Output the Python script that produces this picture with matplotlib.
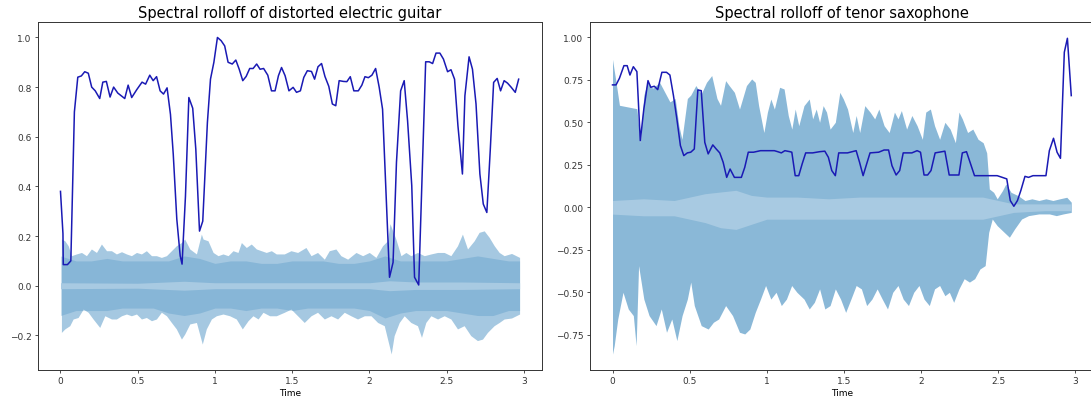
import numpy as np
import matplotlib
matplotlib.use("Agg")
import matplotlib.pyplot as plt

# spectral rolloff curves (normalised)
guitar_rolloff_t = [0, 0.016, 0.018, 0.045, 0.067, 0.09, 0.112, 0.135, 0.157, 0.18, 0.202, 0.225, 0.254,
                    0.274, 0.297, 0.321, 0.344, 0.371, 0.416, 0.438, 0.461, 0.494, 0.528, 0.551, 0.578,
                    0.6, 0.622, 0.645, 0.667, 0.69, 0.712, 0.73, 0.753, 0.775, 0.787, 0.809, 0.831,
                    0.856, 0.876, 0.9, 0.921, 0.951, 0.971, 0.993, 1.016, 1.04, 1.063, 1.085, 1.112,
                    1.135, 1.157, 1.18, 1.202, 1.225, 1.247, 1.27, 1.292, 1.315, 1.342, 1.366, 1.389,
                    1.411, 1.431, 1.454, 1.479, 1.506, 1.528, 1.553, 1.575, 1.598, 1.625, 1.645, 1.667,
                    1.69, 1.712, 1.737, 1.76, 1.782, 1.804, 1.831, 1.854, 1.876, 1.899, 1.928, 1.951,
                    1.971, 1.993, 2.016, 2.04, 2.063, 2.085, 2.108, 2.13, 2.153, 2.175, 2.202, 2.225,
                    2.247, 2.274, 2.292, 2.319, 2.342, 2.364, 2.387, 2.409, 2.431, 2.456, 2.479, 2.506,
                    2.528, 2.551, 2.573, 2.602, 2.618, 2.645, 2.667, 2.69, 2.715, 2.737, 2.76, 2.782,
                    2.804, 2.827, 2.849, 2.872, 2.894, 2.917, 2.944, 2.966]
guitar_rolloff = [0.38, 0.21, 0.085, 0.085, 0.1, 0.70, 0.84, 0.845, 0.862, 0.856, 0.80, 0.785, 0.754,
                  0.82, 0.823, 0.76, 0.80, 0.776, 0.754, 0.808, 0.758, 0.79, 0.82, 0.812, 0.848,
                  0.826, 0.842, 0.785, 0.772, 0.797, 0.69, 0.53, 0.268, 0.12, 0.087, 0.36, 0.758,
                  0.715, 0.55, 0.22, 0.26, 0.657, 0.832, 0.9, 1.0, 0.987, 0.966, 0.9, 0.893,
                  0.909, 0.872, 0.826, 0.843, 0.875, 0.875, 0.893, 0.872, 0.875, 0.848, 0.785, 0.785,
                  0.846, 0.879, 0.846, 0.785, 0.799, 0.779, 0.785, 0.839, 0.866, 0.863, 0.832, 0.882,
                  0.895, 0.843, 0.803, 0.732, 0.725, 0.826, 0.823, 0.822, 0.842, 0.785, 0.785, 0.808,
                  0.842, 0.838, 0.848, 0.875, 0.80, 0.711, 0.362, 0.034, 0.094, 0.497, 0.785, 0.826,
                  0.664, 0.403, 0.034, 0.003, 0.456, 0.902, 0.902, 0.895, 0.937, 0.937, 0.913, 0.862,
                  0.87, 0.832, 0.644, 0.45, 0.765, 0.922, 0.872, 0.732, 0.45, 0.329, 0.295, 0.544,
                  0.819, 0.835, 0.785, 0.826, 0.816, 0.80, 0.779, 0.832]

sax_rolloff_t = [0, 0.023, 0.045, 0.074, 0.095, 0.113, 0.135, 0.158, 0.18, 0.203, 0.23, 0.248, 0.271,
                 0.293, 0.32, 0.35, 0.372, 0.395, 0.417, 0.44, 0.462, 0.485, 0.507, 0.53, 0.553,
                 0.575, 0.598, 0.62, 0.65, 0.672, 0.695, 0.717, 0.74, 0.762, 0.79, 0.835, 0.857,
                 0.88, 0.914, 0.959, 1.049, 1.071, 1.094, 1.117, 1.15, 1.162, 1.184, 1.207, 1.229,
                 1.252, 1.297, 1.342, 1.376, 1.399, 1.421, 1.444, 1.466, 1.523, 1.579, 1.601, 1.624,
                 1.647, 1.669, 1.725, 1.76, 1.789, 1.811, 1.838, 1.861, 1.884, 1.94, 1.974, 1.996,
                 2.019, 2.042, 2.064, 2.091, 2.154, 2.182, 2.245, 2.267, 2.294, 2.317, 2.346, 2.403,
                 2.493, 2.526, 2.555, 2.578, 2.601, 2.624, 2.646, 2.673, 2.696, 2.725, 2.764, 2.809,
                 2.831, 2.858, 2.881, 2.903, 2.928, 2.948, 2.973]
sax_rolloff = [0.72, 0.72, 0.759, 0.833, 0.833, 0.778, 0.827, 0.798, 0.392, 0.578, 0.745, 0.706, 0.712,
               0.692, 0.794, 0.794, 0.778, 0.657, 0.52, 0.363, 0.304, 0.32, 0.324, 0.343, 0.69,
               0.686, 0.382, 0.314, 0.367, 0.343, 0.32, 0.265, 0.176, 0.225, 0.176, 0.176, 0.235,
               0.324, 0.324, 0.333, 0.333, 0.327, 0.32, 0.333, 0.327, 0.324, 0.186, 0.186, 0.255,
               0.32, 0.32, 0.327, 0.33, 0.294, 0.216, 0.186, 0.32, 0.32, 0.333, 0.265, 0.186,
               0.255, 0.32, 0.324, 0.337, 0.337, 0.245, 0.19, 0.216, 0.32, 0.32, 0.333, 0.324,
               0.19, 0.19, 0.216, 0.32, 0.33, 0.19, 0.19, 0.32, 0.327, 0.265, 0.186, 0.186,
               0.186, 0.176, 0.167, 0.039, 0.006, 0.039, 0.098, 0.182, 0.176, 0.186, 0.186, 0.186,
               0.333, 0.406, 0.324, 0.288, 0.912, 0.994, 0.657]

# guitar waveform envelope (outer spikes)
guitar_upper_t = [0.006, 0.028, 0.05, 0.071, 0.103, 0.136, 0.168, 0.2, 0.233, 0.265, 0.298, 0.33, 0.362,
                  0.395, 0.427, 0.459, 0.492, 0.524, 0.556, 0.589, 0.621, 0.653, 0.686, 0.718, 0.75,
                  0.783, 0.804, 0.837, 0.88, 0.912, 0.923, 0.955, 0.988, 1.02, 1.052, 1.085, 1.117,
                  1.149, 1.171, 1.203, 1.235, 1.268, 1.3, 1.332, 1.365, 1.397, 1.449, 1.492, 1.535,
                  1.589, 1.622, 1.664, 1.708, 1.74, 1.783, 1.815, 1.859, 1.913, 1.956, 1.999, 2.042,
                  2.085, 2.117, 2.133, 2.171, 2.204, 2.236, 2.268, 2.311, 2.355, 2.398, 2.441, 2.484,
                  2.527, 2.57, 2.602, 2.635, 2.678, 2.71, 2.743, 2.775, 2.808, 2.84, 2.872, 2.92, 2.972]
guitar_upper = [0.188, 0.181, 0.161, 0.121, 0.128, 0.134, 0.121, 0.148, 0.134, 0.168, 0.141, 0.141, 0.128,
                0.137, 0.128, 0.121, 0.134, 0.128, 0.141, 0.121, 0.121, 0.114, 0.121, 0.141, 0.161,
                0.174, 0.188, 0.148, 0.128, 0.208, 0.188, 0.181, 0.134, 0.121, 0.128, 0.121, 0.141,
                0.134, 0.174, 0.154, 0.168, 0.148, 0.141, 0.134, 0.141, 0.128, 0.128, 0.141, 0.134,
                0.154, 0.121, 0.134, 0.107, 0.141, 0.148, 0.121, 0.107, 0.134, 0.121, 0.134, 0.114,
                0.161, 0.181, 0.25, 0.188, 0.121, 0.134, 0.121, 0.134, 0.121, 0.128, 0.134, 0.134,
                0.121, 0.161, 0.208, 0.148, 0.181, 0.215, 0.221, 0.195, 0.161, 0.134, 0.121, 0.13, 0.114]
guitar_lower_t = [0.006, 0.028, 0.06, 0.082, 0.114, 0.147, 0.179, 0.211, 0.254, 0.287, 0.33, 0.362, 0.395,
                  0.427, 0.459, 0.492, 0.524, 0.556, 0.589, 0.621, 0.653, 0.686, 0.718, 0.75, 0.783,
                  0.804, 0.837, 0.88, 0.918, 0.944, 0.977, 1.009, 1.052, 1.095, 1.138, 1.177, 1.214,
                  1.246, 1.279, 1.311, 1.354, 1.397, 1.449, 1.492, 1.535, 1.578, 1.622, 1.664, 1.708,
                  1.751, 1.794, 1.837, 1.88, 1.923, 1.967, 2.01, 2.053, 2.096, 2.128, 2.141, 2.16,
                  2.193, 2.225, 2.268, 2.311, 2.337, 2.365, 2.398, 2.441, 2.484, 2.527, 2.57, 2.613,
                  2.656, 2.699, 2.732, 2.764, 2.807, 2.84, 2.872, 2.92, 2.972]
guitar_lower = [-0.188, -0.174, -0.161, -0.134, -0.128, -0.094, -0.107, -0.134, -0.168, -0.121, -0.134,
                -0.134, -0.121, -0.114, -0.121, -0.114, -0.134, -0.128, -0.141, -0.134, -0.107, -0.121,
                -0.148, -0.174, -0.215, -0.195, -0.154, -0.148, -0.235, -0.174, -0.134, -0.121, -0.114,
                -0.121, -0.134, -0.174, -0.141, -0.121, -0.134, -0.107, -0.121, -0.121, -0.107, -0.094,
                -0.121, -0.148, -0.121, -0.107, -0.134, -0.121, -0.134, -0.107, -0.121, -0.134, -0.121,
                -0.121, -0.148, -0.161, -0.242, -0.275, -0.201, -0.148, -0.121, -0.148, -0.161, -0.208,
                -0.148, -0.121, -0.134, -0.121, -0.134, -0.174, -0.161, -0.201, -0.221, -0.215, -0.188,
                -0.161, -0.148, -0.134, -0.13, -0.114]

# guitar waveform dense body
guitar_bulk_t = [0, 0.1, 0.2, 0.3, 0.4, 0.5, 0.6, 0.7, 0.8, 0.9, 1.0, 1.1, 1.2, 1.3, 1.4, 1.5, 1.6, 1.7,
                 1.8, 1.9, 2.0, 2.1, 2.2, 2.3, 2.4, 2.5, 2.6, 2.7, 2.8, 2.9, 2.972]
guitar_bulk_upper = [0.12, 0.10, 0.10, 0.11, 0.10, 0.10, 0.10, 0.10, 0.12, 0.11, 0.09, 0.10, 0.10, 0.09,
                     0.09, 0.10, 0.10, 0.10, 0.09, 0.09, 0.10, 0.12, 0.10, 0.10, 0.10, 0.10, 0.11, 0.12,
                     0.11, 0.10, 0.10]
guitar_bulk_lower = [-0.12, -0.10, -0.10, -0.10, -0.09, -0.09, -0.09, -0.11, -0.12, -0.11, -0.09, -0.09,
                     -0.10, -0.09, -0.09, -0.10, -0.09, -0.09, -0.09, -0.09, -0.10, -0.13, -0.11, -0.10,
                     -0.10, -0.10, -0.11, -0.12, -0.12, -0.10, -0.10]
guitar_center_t = [0, 0.5, 0.8, 1.0, 1.5, 2.0, 2.13, 2.3, 2.6, 2.972]
guitar_center = [0.012, 0.01, 0.018, 0.012, 0.012, 0.012, 0.02, 0.015, 0.015, 0.012]

# saxophone waveform envelope
sax_upper_t = [0, 0.023, 0.045, 0.158, 0.18, 0.203, 0.226, 0.26, 0.305, 0.372, 0.406, 0.43, 0.45, 0.485,
               0.507, 0.54, 0.575, 0.609, 0.643, 0.677, 0.7, 0.733, 0.756, 0.79, 0.823, 0.868, 0.902,
               0.925, 0.947, 0.981, 1.004, 1.026, 1.049, 1.083, 1.112, 1.139, 1.162, 1.184, 1.207,
               1.241, 1.275, 1.297, 1.32, 1.342, 1.365, 1.387, 1.41, 1.444, 1.473, 1.496, 1.523,
               1.557, 1.579, 1.602, 1.635, 1.669, 1.699, 1.726, 1.76, 1.793, 1.827, 1.85, 1.872,
               1.906, 1.94, 1.974, 2.008, 2.03, 2.06, 2.087, 2.12, 2.154, 2.188, 2.222, 2.245,
               2.267, 2.301, 2.335, 2.369, 2.402, 2.425, 2.442, 2.47, 2.493, 2.527, 2.549, 2.583,
               2.628, 2.673, 2.718, 2.763, 2.809, 2.854, 2.899, 2.944, 2.973]
sax_upper = [0.87, 0.735, 0.6, 0.58, 0.38, 0.66, 0.735, 0.7, 0.735, 0.62, 0.64, 0.48, 0.4, 0.64,
             0.66, 0.716, 0.667, 0.735, 0.775, 0.64, 0.6, 0.745, 0.716, 0.676, 0.578, 0.716, 0.755,
             0.735, 0.598, 0.44, 0.56, 0.637, 0.578, 0.706, 0.696, 0.54, 0.46, 0.578, 0.48,
             0.598, 0.637, 0.52, 0.578, 0.5, 0.598, 0.56, 0.46, 0.5, 0.676, 0.637, 0.578,
             0.44, 0.54, 0.44, 0.598, 0.56, 0.52, 0.578, 0.48, 0.44, 0.56, 0.52, 0.569,
             0.46, 0.54, 0.48, 0.4, 0.56, 0.578, 0.48, 0.4, 0.5, 0.46, 0.38, 0.56,
             0.52, 0.44, 0.46, 0.4, 0.38, 0.32, 0.108, 0.088, 0.05, 0.098, 0.137, 0.088,
             0.069, 0.04, 0.05, 0.04, 0.05, 0.04, 0.05, 0.059, 0.03]
sax_lower_t = [0, 0.011, 0.034, 0.068, 0.102, 0.135, 0.153, 0.169, 0.203, 0.237, 0.282, 0.316, 0.35,
               0.384, 0.417, 0.451, 0.485, 0.507, 0.53, 0.575, 0.62, 0.654, 0.688, 0.733, 0.778,
               0.823, 0.857, 0.89, 0.925, 0.959, 0.992, 1.026, 1.06, 1.094, 1.127, 1.161, 1.195,
               1.241, 1.275, 1.308, 1.342, 1.376, 1.41, 1.444, 1.478, 1.511, 1.545, 1.579, 1.613,
               1.647, 1.681, 1.715, 1.748, 1.782, 1.816, 1.85, 1.884, 1.918, 1.952, 1.986, 2.019,
               2.053, 2.087, 2.12, 2.154, 2.183, 2.211, 2.245, 2.279, 2.313, 2.347, 2.381, 2.415,
               2.438, 2.461, 2.493, 2.538, 2.572, 2.606, 2.651, 2.696, 2.763, 2.831, 2.876, 2.921,
               2.973]
sax_lower = [-0.863, -0.814, -0.657, -0.5, -0.598, -0.637, -0.814, -0.343, -0.54, -0.637, -0.696,
             -0.598, -0.735, -0.657, -0.784, -0.637, -0.54, -0.44, -0.578, -0.696, -0.716, -0.676,
             -0.657, -0.578, -0.637, -0.735, -0.745, -0.716, -0.618, -0.54, -0.46, -0.54, -0.5,
             -0.578, -0.54, -0.46, -0.5, -0.54, -0.598, -0.559, -0.48, -0.598, -0.578, -0.48,
             -0.54, -0.618, -0.54, -0.46, -0.48, -0.578, -0.54, -0.48, -0.54, -0.598, -0.5,
             -0.46, -0.54, -0.578, -0.5, -0.46, -0.54, -0.578, -0.48, -0.46, -0.52, -0.5,
             -0.559, -0.48, -0.42, -0.44, -0.42, -0.363, -0.343, -0.147, -0.069, -0.108, -0.147,
             -0.176, -0.127, -0.069, -0.049, -0.039, -0.039, -0.049, -0.039, -0.03]
sax_center_t = [0, 0.2, 0.4, 0.5, 0.6, 0.7, 0.8, 0.9, 1.0, 1.2, 1.4, 1.6, 1.8, 2.0, 2.2, 2.4, 2.45,
                2.6, 2.8, 2.973]
sax_center_upper = [0.04, 0.05, 0.04, 0.06, 0.08, 0.09, 0.1, 0.07, 0.06, 0.06, 0.05, 0.06, 0.06, 0.06,
                    0.06, 0.06, 0.05, 0.02, 0.02, 0.02]
sax_center_lower = [-0.04, -0.05, -0.05, -0.07, -0.09, -0.12, -0.13, -0.1, -0.07, -0.07, -0.07, -0.07,
                    -0.07, -0.07, -0.07, -0.07, -0.06, -0.03, -0.02, -0.02]

x_ticks = [0, 0.5, 1, 1.5, 2, 2.5, 3]
x_tick_labels = ["0", "0.5", "1", "1.5", "2", "2.5", "3"]

WAVE = "#1f77b4"
LIGHT = "#a8cae2"
LINE = "#1a1ab4"


def style_axes(ax, title):
    ax.set_title(title, fontsize=10.5, pad=4)
    ax.set_xlabel("Time", fontsize=6.5, labelpad=2)
    ax.set_xticks(x_ticks)
    ax.set_xticklabels(x_tick_labels)
    ax.set_xlim(-0.1486, 3.1186)
    ax.tick_params(labelsize=6.5, length=2.5, width=0.6, pad=2, colors="#333333")
    for spine in ax.spines.values():
        spine.set_linewidth(0.7)
        spine.set_color("#333333")


def draw_envelope(ax, up_t, up, lo_t, lo, alpha):
    ax.fill_between(up_t, 0, up, color=WAVE, alpha=alpha, lw=0)
    ax.fill_between(lo_t, lo, 0, color=WAVE, alpha=alpha, lw=0)


fig = plt.figure(figsize=(10.91, 4.02), dpi=100)
ax1 = fig.add_axes([0.0344, 0.0771, 0.4626, 0.8649])
ax2 = fig.add_axes([0.5404, 0.0771, 0.4621, 0.8649])

# guitar: light spikes, slightly darker body, pale centre strip
draw_envelope(ax1, guitar_upper_t, guitar_upper, guitar_lower_t, guitar_lower, 0.4)
ax1.fill_between(guitar_bulk_t, guitar_bulk_lower, guitar_bulk_upper, color=WAVE, alpha=0.22, lw=0)
ax1.fill_between(guitar_center_t, -np.array(guitar_center), guitar_center, color=LIGHT, lw=0)
ax1.plot(guitar_rolloff_t, guitar_rolloff, color=LINE, lw=1.1)
ax1.set_ylim(-0.3395, 1.061)
style_axes(ax1, "Spectral rolloff of distorted electric guitar")

# saxophone
draw_envelope(ax2, sax_upper_t, sax_upper, sax_lower_t, sax_lower, 0.52)
ax2.fill_between(sax_center_t, sax_center_lower, sax_center_upper, color=LIGHT, lw=0)
ax2.plot(sax_rolloff_t, sax_rolloff, color=LINE, lw=1.1)
ax2.set_ylim(-0.957, 1.088)
ax2.set_yticks([-0.75, -0.5, -0.25, 0, 0.25, 0.5, 0.75, 1.0])
style_axes(ax2, "Spectral rolloff of tenor saxophone")

fig.savefig("out.png", dpi=100)
